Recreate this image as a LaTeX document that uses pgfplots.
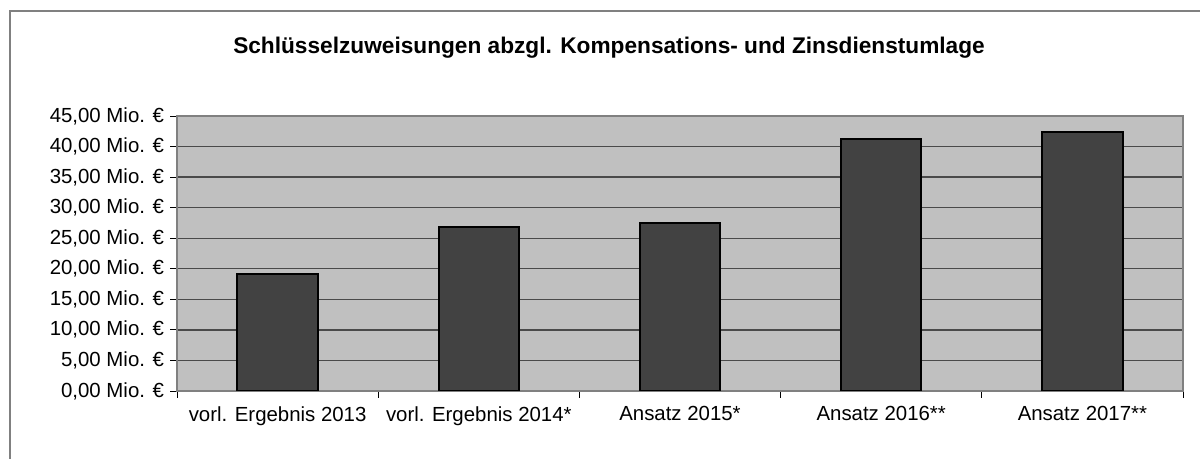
\documentclass[border=0pt]{standalone}
\usepackage{pgfplots}
\pgfplotsset{compat=1.18}
\usepackage{fontspec}
\setmainfont{Liberation Sans}
\definecolor{plotbg}{HTML}{C0C0C0}
\definecolor{barfill}{HTML}{424242}
\definecolor{gridc}{HTML}{4A4A4A}
\definecolor{framec}{HTML}{808080}
\begin{document}
\begin{tikzpicture}[x=1pt,y=1pt]
\useasboundingbox (0,0) rectangle (900,344.25);
\draw[framec, line width=0.9pt] (7.5,0) -- (7.5,336) -- (900,336);
\node[font=\bfseries\fontsize{17}{20}\selectfont] at (456.75,308.25) {Schlüsselzuweisungen abzgl. Kompensations- und Zinsdienstumlage};
\begin{axis}[
  at={(132.75pt,51pt)}, anchor=south west,
  width=754.5pt, height=206.25pt, scale only axis,
  xmin=-0.5, xmax=4.5, ymin=0, ymax=45,
  axis background/.style={fill=plotbg},
  axis line style={framec, line width=1pt},
  xtick pos=bottom, ytick pos=left,
  xtick={0,1,2,3,4},
  xticklabels={vorl. Ergebnis 2013, vorl. Ergebnis 2014*, Ansatz 2015*, Ansatz 2016**, Ansatz 2017**},
  major x tick style={draw=none},
  minor xtick={-0.5,0.5,1.5,2.5,3.5,4.5},
  minor x tick style={black, line width=0.6pt},
  minor tick length=5.25pt,
  ytick={0,5,...,45},
  yticklabels={{0,00 Mio. €},{5,00 Mio. €},{10,00 Mio. €},{15,00 Mio. €},{20,00 Mio. €},{25,00 Mio. €},{30,00 Mio. €},{35,00 Mio. €},{40,00 Mio. €},{45,00 Mio. €}},
  major y tick style={black, line width=0.6pt},
  major tick length=5.25pt,
  tick align=outside,
  ymajorgrids,
  major grid style={gridc, line width=1pt},
  ticklabel style={font=\fontsize{15.3}{18}\selectfont},
  xticklabel style={yshift=-3pt},
  yticklabel style={xshift=-1pt},
]
\addplot[ybar, bar width=0.4, fill=barfill, draw=black, line width=1.5pt]
  coordinates {(0,19.2) (1,26.9) (2,27.5) (3,41.2) (4,42.4)};
\end{axis}
\end{tikzpicture}
\end{document}
